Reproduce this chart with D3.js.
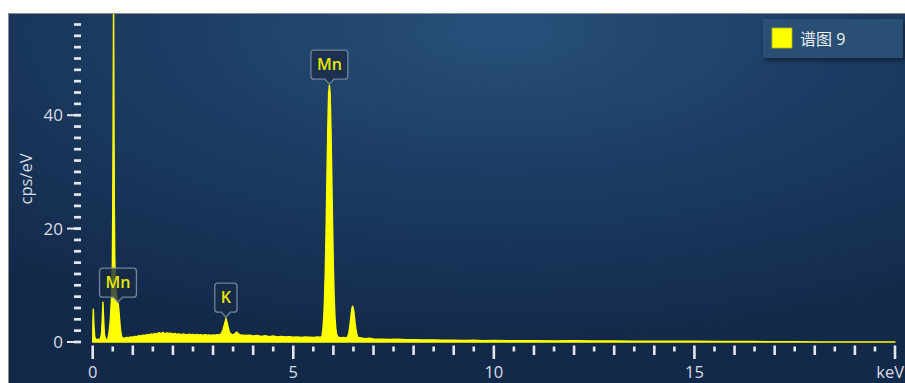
<!DOCTYPE html>
<html>
<head>
<meta charset="utf-8">
<script src="https://cdn.jsdelivr.net/npm/d3@7"></script>
<style>
  html, body { margin: 0; padding: 0; background: #fff; overflow: hidden; }
  svg { display: block; }
  text { font-family: "Open Sans", "Noto Sans", "Noto Sans CJK SC", sans-serif; }
</style>
</head>
<body>
<div id="chart"></div>
<script>
// spectrum: [keV, cps/eV]
const spectrum = [
  [0.00, 0], [0.005, 3.5], [0.015, 5.8], [0.03, 3.0], [0.05, 1.0], [0.07, 0.5], [0.10, 0.45], [0.15, 0.5],
  [0.19, 0.5], [0.22, 1.5], [0.24, 4.2], [0.255, 7.0], [0.27, 4.5], [0.29, 1.5], [0.32, 0.5], [0.35, 0.45],
  [0.38, 0.6], [0.41, 1.8], [0.44, 4.0], [0.47, 8.0], [0.49, 14], [0.50, 24], [0.51, 40], [0.52, 62],
  [0.53, 40], [0.54, 24], [0.55, 15], [0.57, 10], [0.59, 8.2], [0.61, 7.6], [0.62, 7.2], [0.64, 6.5],
  [0.66, 5.0], [0.68, 3.2], [0.70, 1.8], [0.72, 1.0], [0.75, 0.6],
  [0.80, 0.7], [0.85, 0.8], [0.90, 0.75], [0.95, 0.9], [1.00, 0.85], [1.05, 1.0], [1.10, 0.95],
  [1.15, 1.1], [1.20, 1.05], [1.25, 1.2], [1.30, 1.15], [1.35, 1.3], [1.40, 1.25], [1.45, 1.4],
  [1.50, 1.35], [1.55, 1.5], [1.60, 1.4], [1.65, 1.65], [1.70, 1.5], [1.75, 1.7], [1.80, 1.45],
  [1.85, 1.6], [1.90, 1.5], [1.95, 1.55], [2.00, 1.4], [2.05, 1.5], [2.10, 1.35], [2.15, 1.45],
  [2.20, 1.3], [2.25, 1.4], [2.30, 1.35], [2.35, 1.25], [2.40, 1.4], [2.45, 1.3], [2.50, 1.35],
  [2.55, 1.2], [2.60, 1.35], [2.65, 1.25], [2.70, 1.3], [2.75, 1.15], [2.80, 1.3], [2.85, 1.2],
  [2.90, 1.25], [2.95, 1.15], [3.00, 1.25], [3.05, 1.2], [3.10, 1.3], [3.15, 1.25],
  [3.19, 1.4], [3.22, 1.7], [3.25, 2.2], [3.28, 3.0], [3.31, 3.8], [3.32, 4.2], [3.34, 3.7],
  [3.37, 2.8], [3.40, 1.9], [3.43, 1.5], [3.47, 1.3], [3.51, 1.35], [3.55, 1.5], [3.59, 1.75],
  [3.63, 1.45], [3.67, 1.3],
  [3.70, 1.25], [3.80, 1.15], [3.90, 1.2], [4.00, 1.05], [4.10, 1.15], [4.20, 1.0], [4.30, 1.1],
  [4.40, 0.95], [4.50, 1.05], [4.60, 0.9], [4.70, 1.0], [4.80, 0.9], [4.90, 0.95], [5.00, 0.85],
  [5.10, 0.9], [5.20, 0.8], [5.30, 0.9], [5.40, 0.85], [5.50, 0.8], [5.60, 0.9], [5.66, 0.85],
  [5.70, 0.9], [5.72, 1.2], [5.74, 2.4], [5.76, 4.3], [5.78, 7.8], [5.80, 13.1], [5.82, 20.5],
  [5.84, 29.2], [5.86, 37.6], [5.88, 43.8], [5.90, 45.3], [5.92, 43.8], [5.94, 37.6], [5.96, 29.2],
  [5.98, 20.5], [6.00, 13.1], [6.02, 7.8], [6.04, 4.3], [6.06, 2.4], [6.08, 1.4], [6.11, 0.9],
  [6.15, 0.8], [6.20, 0.75], [6.25, 0.8], [6.30, 0.7],
  [6.34, 0.8], [6.36, 1.0], [6.38, 1.45], [6.40, 2.25], [6.42, 3.4], [6.44, 4.75], [6.46, 5.85],
  [6.48, 6.3], [6.50, 5.85], [6.52, 4.75], [6.54, 3.4], [6.56, 2.25], [6.58, 1.45], [6.60, 1.0],
  [6.62, 0.8], [6.70, 0.7], [6.80, 0.6], [6.90, 0.65], [7.00, 0.55], [7.20, 0.5], [7.40, 0.45],
  [7.60, 0.5], [7.80, 0.4], [8.00, 0.42], [8.25, 0.35], [8.50, 0.38], [8.75, 0.3], [9.00, 0.32],
  [9.25, 0.28], [9.50, 0.3], [9.75, 0.25], [10.00, 0.27], [10.50, 0.22], [11.00, 0.24],
  [11.50, 0.2], [12.00, 0.21], [12.50, 0.18], [13.00, 0.17], [13.50, 0.15], [14.00, 0.14],
  [14.50, 0.12], [15.00, 0.12], [15.50, 0.1], [16.00, 0.09], [16.50, 0.08], [17.00, 0.06],
  [17.50, 0.05], [18.00, 0.03], [18.50, 0.02], [19.00, 0.01], [20.00, 0]
]

const seriesName = '谱图 9'
const peakNames = ['Mn', 'K', 'Mn']
const peakKeV = [0.63, 3.32, 5.90]

const xLabelTicks = [0, 5, 10, 15]
const xUnit = 'keV'
const yLabelTicks = [0, 20, 40]
const yTitle = 'cps/eV'

const width = 905, height = 383
const panel = { x: 8, y: 13 }

const x = d3.scaleLinear().domain([0, 20]).range([92.7, 895])
const y = d3.scaleLinear().domain([0, 40]).range([342, 115.2])

const svg = d3.select('#chart')
  .append('svg')
    .attr('width', width)
    .attr('height', height)

const defs = svg.append('defs')

const bg = defs.append('radialGradient')
    .attr('id', 'bg')
    .attr('cx', '55%').attr('cy', '5%').attr('r', '85%')
bg.append('stop').attr('offset', '0%').attr('stop-color', '#27507a')
bg.append('stop').attr('offset', '45%').attr('stop-color', '#1c3d63')
bg.append('stop').attr('offset', '100%').attr('stop-color', '#13294a')

defs.append('clipPath').attr('id', 'plot-clip')
  .append('rect')
    .attr('x', panel.x + 1).attr('y', panel.y + 1)
    .attr('width', width - panel.x).attr('height', y(0) - panel.y)

const shadow = defs.append('filter').attr('id', 'shadow')
    .attr('x', '-20%').attr('y', '-30%').attr('width', '150%').attr('height', '180%')
shadow.append('feDropShadow')
    .attr('dx', 2).attr('dy', 3).attr('stdDeviation', 2.5)
    .attr('flood-color', '#000').attr('flood-opacity', 0.45)

// panel
svg.append('rect')
    .attr('x', panel.x).attr('y', panel.y)
    .attr('width', width - panel.x).attr('height', height - panel.y)
    .attr('fill', 'url(#bg)')
svg.append('path')
    .attr('d', `M${panel.x + 0.5},${height} V${panel.y + 0.5} H${width}`)
    .attr('fill', 'none')
    .attr('stroke', '#8c8c8c')

// spectrum
const area = d3.area()
    .x(d => x(d[0]))
    .y0(y(0))
    .y1(d => y(d[1]))

svg.append('path')
    .datum(spectrum)
    .attr('clip-path', 'url(#plot-clip)')
    .attr('d', area)
    .attr('fill', '#ffff00')
    .attr('stroke', '#ffff00')
    .attr('stroke-width', 1.4)
    .attr('stroke-linejoin', 'round')

// x axis: ticks every 0.5 keV
const axisColor = '#e4e8ec'
const textColor = '#d8dee5'
const xg = svg.append('g')
xg.selectAll('line')
  .data(d3.range(0, 41).map(i => i / 2))
  .enter().append('line')
    .attr('x1', d => x(d)).attr('x2', d => x(d))
    .attr('y1', d => d % 1 === 0 ? 345.5 : 346.5)
    .attr('y2', d => d % 5 === 0 ? 359 : (d % 1 === 0 ? 355 : 351.5))
    .attr('stroke', axisColor)
    .attr('stroke-width', 2.6)

xg.selectAll('text')
  .data(xLabelTicks)
  .enter().append('text')
    .attr('x', d => x(d))
    .attr('y', 378)
    .attr('text-anchor', 'middle')
    .attr('font-size', 16.5)
    .attr('fill', textColor)
    .text(d => d)

xg.append('text')
    .attr('x', 904)
    .attr('y', 378)
    .attr('text-anchor', 'end')
    .attr('font-size', 16.5)
    .attr('fill', textColor)
    .text(xUnit)

// y axis: ticks every 2 cps/eV
const yg = svg.append('g')
yg.selectAll('line.minor')
  .data(d3.range(0, 57, 2))
  .enter().append('line')
    .attr('class', 'minor')
    .attr('x1', 74).attr('x2', 81)
    .attr('y1', d => y(d)).attr('y2', d => y(d))
    .attr('stroke', axisColor)
    .attr('stroke-width', 2.7)

yg.selectAll('line.major')
  .data(yLabelTicks)
  .enter().append('line')
    .attr('class', 'major')
    .attr('x1', 67).attr('x2', 81)
    .attr('y1', d => y(d)).attr('y2', d => y(d))
    .attr('stroke', axisColor)
    .attr('stroke-width', 2)

yg.selectAll('text')
  .data(yLabelTicks)
  .enter().append('text')
    .attr('x', 63)
    .attr('y', d => y(d))
    .attr('dy', '0.36em')
    .attr('text-anchor', 'end')
    .attr('font-size', 17)
    .attr('fill', textColor)
    .text(d => d)

svg.append('text')
    .attr('transform', 'translate(32,179) rotate(-90)')
    .attr('text-anchor', 'middle')
    .attr('font-size', 16.5)
    .attr('fill', textColor)
    .text(yTitle)

// peak callouts
function valueAt (e) {
  const i = d3.bisector(d => d[0]).left(spectrum, e)
  const a = spectrum[Math.max(0, i - 1)], b = spectrum[i]
  if (b[0] === e || a === b) return b[1]
  return a[1] + (b[1] - a[1]) * (e - a[0]) / (b[0] - a[0])
}

function calloutPath (cx, tipY, w, h, r, ph, pw) {
  const x0 = cx - w / 2, x1 = cx + w / 2, yb = tipY - ph, yt = yb - h
  return `M${x0 + r},${yt} H${x1 - r} Q${x1},${yt} ${x1},${yt + r} V${yb - r} Q${x1},${yb} ${x1 - r},${yb}` +
    ` H${cx + pw} L${cx},${tipY} L${cx - pw},${yb} H${x0 + r} Q${x0},${yb} ${x0},${yb - r} V${yt + r} Q${x0},${yt} ${x0 + r},${yt} Z`
}

peakNames.forEach((name, i) => {
  const cx = x(peakKeV[i])
  const tipY = y(valueAt(peakKeV[i])) - 1
  const g = svg.append('g')
  const box = g.append('path')
  const label = g.append('text')
      .attr('x', cx)
      .attr('y', tipY - 5 - 9)
      .attr('text-anchor', 'middle')
      .attr('font-size', 16)
      .attr('font-weight', 600)
      .attr('fill', '#e8e800')
      .text(name)
  const w = label.node().getComputedTextLength() + 12
  box.attr('d', calloutPath(cx, tipY, w, 29, 3, 5, 4.5))
      .attr('fill', 'rgba(24,44,70,0.78)')
      .attr('stroke', '#71849a')
      .attr('stroke-width', 1.3)
})

// legend
const legend = svg.append('g').attr('transform', 'translate(763,19)')
legend.append('rect')
    .attr('width', 140).attr('height', 39)
    .attr('fill', '#2c5075')
    .attr('filter', 'url(#shadow)')
legend.append('rect')
    .attr('x', 9).attr('y', 9)
    .attr('width', 20).attr('height', 20)
    .attr('fill', '#ffff00')
    .attr('stroke', '#b5b500')
    .attr('stroke-width', 0.8)
legend.append('text')
    .attr('x', 37).attr('y', 26)
    .attr('font-size', 16)
    .attr('fill', '#e9eef3')
    .text(seriesName)
</script>
</body>
</html>
